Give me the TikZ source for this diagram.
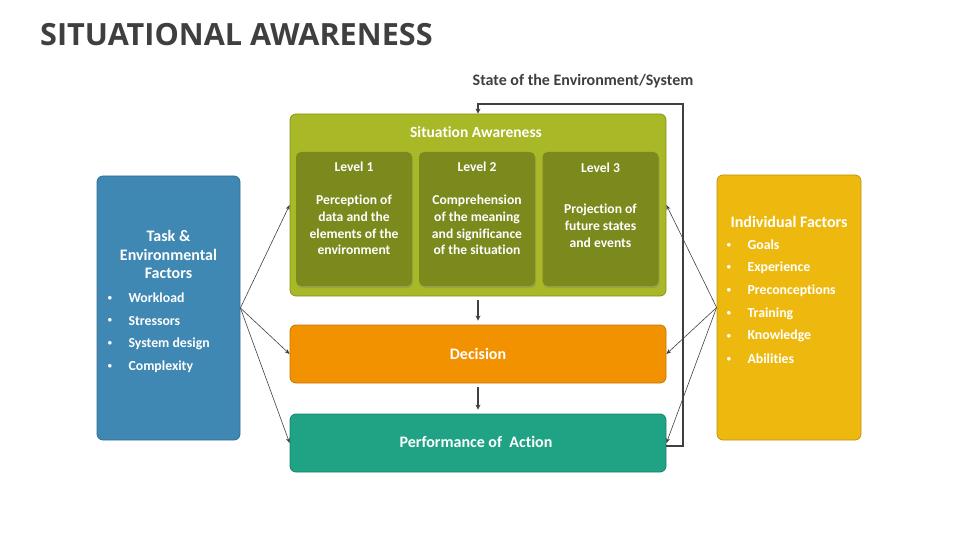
\documentclass[tikz,border=0pt]{standalone}
\usepackage{fontspec}
\setmainfont{Carlito}[Ligatures=NoCommon]
\newfontfamily\titlefont{Open Sans}
\usepackage{tikz}
\usetikzlibrary{arrows.meta}
\usetikzlibrary{shadows}
\usepackage{xcolor}
\definecolor{title gray}{HTML}{3F3F3F}
\definecolor{line gray}{HTML}{404040}
\definecolor{sa green}{HTML}{A8B826}
\definecolor{level olive}{HTML}{7B891D}
\definecolor{dec orange}{HTML}{F39200}
\definecolor{act teal}{HTML}{1FA384}
\definecolor{task blue}{HTML}{3F88B3}
\definecolor{ind yellow}{HTML}{EEB90F}

\begin{document}
\begin{tikzpicture}[x=1pt, y=-1pt,
		box/.style={rounded corners=6pt, draw=#1!80!black, fill=#1, line width=0.8pt, inner sep=0pt},
		levelbox/.style={rounded corners=5pt, fill=level olive, inner sep=0pt,
			minimum width=116pt, minimum height=134pt, drop shadow={opacity=0.35, shadow xshift=1pt, shadow yshift=-2pt}},
		boxtext/.style={text=white, font=\bfseries\fontsize{13.6}{16.8}\selectfont, align=center},
		headtext/.style={text=white, font=\bfseries\fontsize{16}{19}\selectfont, align=center},
		bullettext/.style={text=white, font=\bfseries\fontsize{13.8}{15}\selectfont, anchor=west},
		feed/.style={color=line gray, line width=0.6pt, -{Stealth[length=5pt, width=4pt]}},
		flow/.style={color=line gray, line width=1.4pt, -{Stealth[length=5pt, width=5pt]}, shorten <=4pt, shorten >=4pt}]
			\useasboundingbox (0,0) rectangle (960,540);
			\node[anchor=base west, text=title gray, inner sep=0pt] (title) at (40,46) {\titlefont\bfseries\fontsize{30.6}{36}\selectfont SITUATIONAL AWARENESS};
			% middle column
			\node[box=sa green, minimum width=376pt, minimum height=182pt] (sa) at (478,205) {};
			\node[headtext, font=\bfseries\fontsize{15.5}{19}\selectfont] (satitle) at (476,132) {Situation Awareness};
			\node[levelbox] (l1) at (354,219) {};
			\node[levelbox] (l2) at (477,219) {};
			\node[levelbox] (l3) at (600.5,219) {};
			\node[boxtext] (l1head) at (354,167) {Level 1};
			\node[boxtext] (l2head) at (477,167) {Level 2};
			\node[boxtext] (l3head) at (600.5,168) {Level 3};
			\node[boxtext] (l1text) at (354,225) {Perception of\\data and the\\elements of the\\environment};
			\node[boxtext] (l2text) at (477,225) {Comprehension\\of the meaning\\and significance\\of the situation};
			\node[boxtext] (l3text) at (600.5,226) {Projection of\\future states\\and events};
			\node[box=dec orange, minimum width=376pt, minimum height=58pt] (dec) at (478,354) {};
			\node[headtext] (dectext) at (478,354) {Decision};
			\node[box=act teal, minimum width=376pt, minimum height=58pt] (act) at (478,443) {};
			\node[headtext] (acttext) at (476,442) {Performance of~ Action};
			\node[text=title gray, font=\bfseries\fontsize{16}{19}\selectfont] (state) at (583,81) {State of the Environment/System};
			% side boxes
			\node[box=task blue, minimum width=143pt, minimum height=264pt] (task) at (168.5,308) {};
			\node[headtext, font=\bfseries\fontsize{16}{18.7}\selectfont] (tasktitle) at (168.5,254.5) {Task \&\\Environmental\\Factors};
			\foreach \t [count=\i] in {Workload, Stressors, System design, Complexity} {
				\node[text=white, font=\small] (tb\i) at (110,275.5+22.7*\i) {$\bullet$};
				\node[bullettext] (tl\i) at (125,275.5+22.7*\i) {\t};
			}
			\node[box=ind yellow, minimum width=144pt, minimum height=265pt] (ind) at (789,307.5) {};
			\node[headtext] (indtitle) at (789,222) {Individual Factors};
			\foreach \t [count=\i] in {Goals, Experience, Preconceptions, Training, Knowledge, Abilities} {
				\node[text=white, font=\small] (ib\i) at (729,222.2+22.8*\i) {$\bullet$};
				\node[bullettext] (il\i) at (744,222.2+22.8*\i) {\t};
			}
			% connectors
			\draw[feed] (task.east) -- (sa.west);
			\draw[feed] (task.east) -- (dec.west);
			\draw[feed] (task.east) -- (act.west);
			\draw[feed] (ind.west) -- (sa.east);
			\draw[feed] (ind.west) -- (dec.east);
			\draw[feed] (ind.west) -- (act.east);
			\draw[flow] (sa.south) -- (dec.north);
			\draw[flow] (dec.south) -- (act.north);
			\coordinate (corner) at (683,104);
			\draw[color=line gray, line width=1.4pt, -{Stealth[length=5pt, width=5pt]}] ([yshift=-3pt]act.east) -| (corner) -| (sa.north);
		\end{tikzpicture}
\end{document}
